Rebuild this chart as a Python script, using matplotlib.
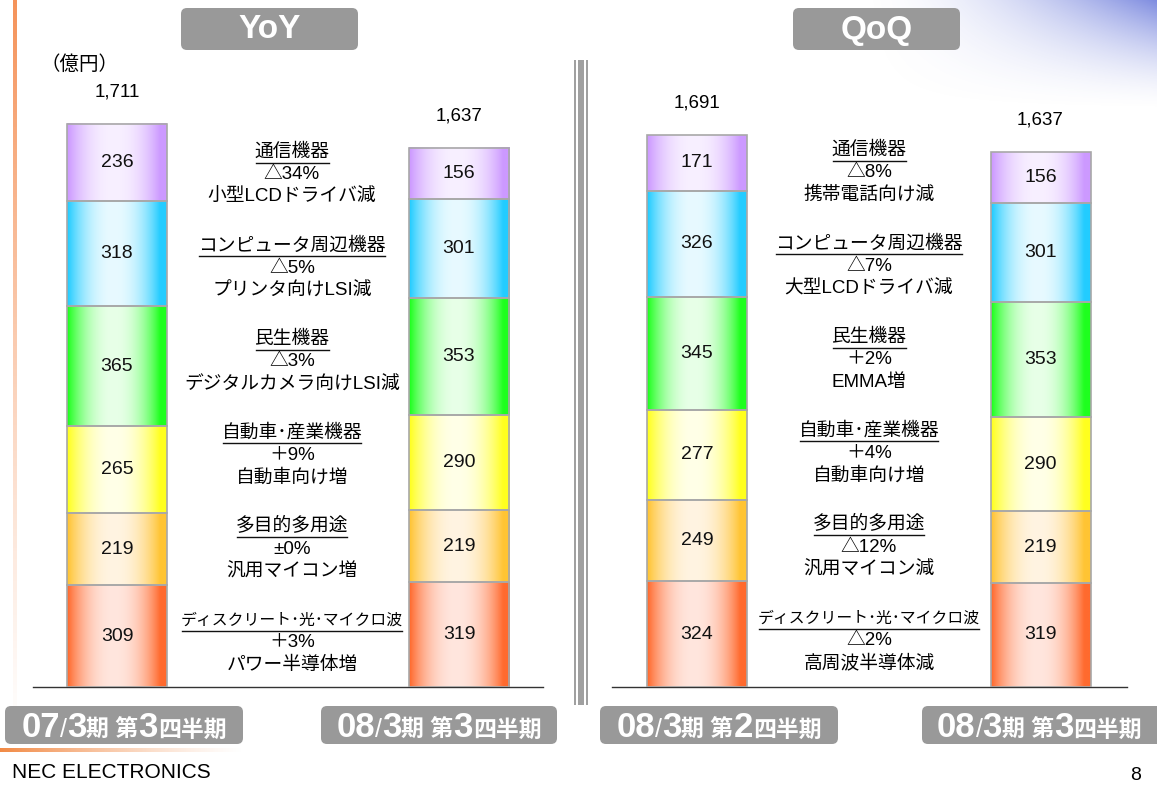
import re
import numpy as np
import matplotlib.pyplot as plt
from matplotlib.patches import FancyBboxPatch, Rectangle
from matplotlib.colors import to_rgb

plt.rcParams['font.family'] = ['Liberation Sans', 'Noto Sans CJK JP']

W, H = 1157, 787

# segments listed bottom -> top of the stack
segments = ['ディスクリート･光･マイクロ波', '多目的多用途', '自動車･産業機器',
            '民生機器', 'コンピュータ周辺機器', '通信機器']
edge_colors = ['#FF6A2E', '#FFC433', '#FFFF1E', '#1EFF1E', '#22CCFF', '#CC99FF']
mid_colors = ['#FFE6DE', '#FFF4E2', '#FFFFE8', '#E8FFE8', '#E8FAFF', '#F8F0FF']

yoy_prev = [309, 219, 265, 365, 318, 236]   # 07/3期 第3四半期
yoy_curr = [319, 219, 290, 353, 301, 156]   # 08/3期 第3四半期
qoq_prev = [324, 249, 277, 345, 326, 171]   # 08/3期 第2四半期
qoq_curr = [319, 219, 290, 353, 301, 156]   # 08/3期 第3四半期
yoy_totals = [1711, 1637]
qoq_totals = [1691, 1637]

yoy_periods = ['07/3期 第3四半期', '08/3期 第3四半期']
qoq_periods = ['08/3期 第2四半期', '08/3期 第3四半期']

# notes between the bars, top -> bottom
yoy_pct = ['△34%', '△5%', '△3%', '＋9%', '±0%', '＋3%']
yoy_reason = ['小型LCDドライバ減', 'プリンタ向けLSI減', 'デジタルカメラ向けLSI減',
              '自動車向け増', '汎用マイコン増', 'パワー半導体増']
qoq_pct = ['△8%', '△7%', '＋2%', '＋4%', '△12%', '△2%']
qoq_reason = ['携帯電話向け減', '大型LCDドライバ減', 'EMMA増',
              '自動車向け増', '汎用マイコン減', '高周波半導体減']


def grad(i, n=64):
    t = np.linspace(0, 1, n)
    w = np.clip(1 - (np.abs(t - 0.47) / 0.47) ** 2.2, 0, 1)
    e = np.array(to_rgb(edge_colors[i]))
    m = np.array(to_rgb(mid_colors[i]))
    return (e[None, :] * (1 - w[:, None]) + m[None, :] * w[:, None])[None, :, :]


fig = plt.figure(figsize=(W / 100, H / 100), dpi=100)
bg = fig.add_axes([0, 0, 1, 1], zorder=0)
bg.set_xlim(0, W)
bg.set_ylim(H, 0)
bg.axis('off')


def draw_panel(l, r, t, b, scale, xl, xr, prev, curr, totals):
    ax = fig.add_axes([l / W, 1 - b / H, (r - l) / W, (b - t) / H], zorder=1)
    ax.patch.set_visible(False)
    x = np.array([0, 1])
    bw = 100 / (r - l - xl - xr)
    bottoms = np.zeros(2)
    for i in range(len(segments)):
        vals = np.array([prev[i], curr[i]])
        bars = ax.bar(x, vals, bw, bottom=bottoms, facecolor='none',
                      edgecolor='#A8A8A8', lw=1.2, zorder=3)
        for rect in bars:
            ax.imshow(grad(i), extent=(rect.get_x(), rect.get_x() + rect.get_width(),
                                       rect.get_y(), rect.get_y() + rect.get_height()),
                      aspect='auto', interpolation='bilinear', zorder=2)
        ax.bar_label(bars, labels=[str(v) for v in vals], label_type='center',
                     fontsize=14, color='#111111')
        bottoms += vals
    for xi, top, tot in zip(x, bottoms, totals):
        ax.annotate(f'{tot:,}', (xi, top), xytext=(0, 23), textcoords='offset points',
                    ha='center', va='center', fontsize=13.5)
    span = (r - l - xl - xr)
    ax.set_xlim(-xl / span, 1 + xr / span)
    ax.set_ylim(0, (b - t) / scale)
    for s in ['top', 'left', 'right']:
        ax.spines[s].set_visible(False)
    ax.spines['bottom'].set_color('#333333')
    ax.spines['bottom'].set_linewidth(1.0)
    ax.set_xticks([])
    ax.set_yticks([])
    return ax


draw_panel(33, 543, 60, 687, 0.329, 84, 84, yoy_prev, yoy_curr, yoy_totals)
draw_panel(612, 1127, 60, 687, 0.3264, 85, 86.5, qoq_prev, qoq_curr, qoq_totals)

# decorations: orange left rule, orange bottom rule, blue corner
vgrad = np.zeros((200, 1, 4))
vgrad[..., :3] = to_rgb('#F5935A')
vgrad[:, 0, 3] = np.linspace(1, 0, 200) ** 1.2
bg.imshow(vgrad, extent=(12.7, 16.7, 745, 0), aspect='auto', zorder=1)
hgrad = np.zeros((1, 200, 4))
hgrad[..., :3] = to_rgb('#F28A45')
hgrad[0, :, 3] = np.linspace(1, 0, 200) ** 1.3
bg.imshow(hgrad, extent=(0, 245, 752, 748.5), aspect='auto', zorder=1)
yy, xx = np.mgrid[0:110, 0:300]
corner = np.zeros((110, 300, 4))
corner[..., :3] = to_rgb('#5E6FD8')
corner[..., 3] = (np.clip(xx / 300, 0, 1) ** 1.8) * (np.clip(1 - yy / 110, 0, 1) ** 1.6) * 0.8
bg.imshow(corner, extent=(857, 1157, 110, 0), aspect='auto', zorder=0)
bg.set_xlim(0, W)
bg.set_ylim(H, 0)

# divider
for x0, x1 in [(574, 576), (578.3, 583.7), (585.7, 587.7)]:
    bg.add_patch(Rectangle((x0, 60), x1 - x0, 645, color='#A0A0A0', lw=0, zorder=1))

# header boxes
for (x0, x1), label in [((181, 358), 'YoY'), ((793, 960), 'QoQ')]:
    bg.add_patch(FancyBboxPatch((x0, 8), x1 - x0, 42, boxstyle='round,pad=0,rounding_size=6',
                                fc='#999999', ec='none', zorder=2))
    bg.text((x0 + x1) / 2, 30, label, ha='center', va='center', fontsize=24,
            fontweight='bold', color='white', zorder=3)

bg.text(40, 64, '（億円）', ha='left', va='center', fontsize=14,
        family=['Noto Sans CJK JP'], zorder=3)
bg.text(12, 772, 'NEC ELECTRONICS', ha='left', va='center', fontsize=15,
        zorder=3)
bg.text(1136, 775, '8', ha='center', va='center', fontsize=14, zorder=3)

# notes between bars
titles = []
for cx, y0, pcts, reasons in [(292, 152, yoy_pct, yoy_reason), (869, 150, qoq_pct, qoq_reason)]:
    for k, name in enumerate(segments[::-1]):
        yc = y0 + k * 93.6
        tt = bg.text(cx, yc, name, ha='center', va='center', fontsize=13.5, zorder=3)
        titles.append((tt, yc))
        bg.text(cx, yc + 22.7, pcts[k], ha='center', va='center', fontsize=13.5, zorder=3)
        bg.text(cx, yc + 45.4, reasons[k], ha='center', va='center', fontsize=13.5, zorder=3)

# period boxes with mixed-size labels
boxes = [(5, 243), (321, 557), (600, 838), (922, 1165)]
for (x0, x1), label in zip(boxes, yoy_periods + qoq_periods):
    bg.add_patch(FancyBboxPatch((x0, 706), x1 - x0, 38, boxstyle='round,pad=0,rounding_size=6',
                                fc='#999999', ec='none', zorder=2))
    pieces = []
    for part in re.findall(r'\d+|/|[^\d/]+', label):
        if part.isdigit():
            kw = dict(fontsize=25, fontweight='bold')
        elif part == '/':
            kw = dict(fontsize=18, fontweight='normal')
        else:
            kw = dict(fontsize=16.5, fontweight='bold')
        pieces.append(bg.text(0, 737, part, ha='left', va='baseline', color='white',
                              zorder=3, **kw))
    titles.append((x0, min(x1, W), pieces))

fig.canvas.draw()
renderer = fig.canvas.get_renderer()
inv = bg.transData.inverted()
for item in titles:
    if len(item) == 2:
        tt, yc = item
        bb = tt.get_window_extent(renderer)
        (ax0, _), (ax1, _) = inv.transform([(bb.x0, bb.y0), (bb.x1, bb.y1)])
        if ax1 - ax0 > 222:
            tt.set_fontsize(13.5 * 222 / (ax1 - ax0))
            bb = tt.get_window_extent(renderer)
            (ax0, _), (ax1, _) = inv.transform([(bb.x0, bb.y0), (bb.x1, bb.y1)])
        bg.plot([ax0 + 1, ax1 - 1], [yc + 10.5, yc + 10.5], color='#111111', lw=1.0, zorder=3)
    else:
        x0, x1, pieces = item
        widths = [p.get_window_extent(renderer).width for p in pieces]
        cur = (x0 + x1) / 2 - sum(widths) / 2
        for p, wpx in zip(pieces, widths):
            p.set_x(cur)
            cur += wpx

fig.savefig('out.png', dpi=100)
